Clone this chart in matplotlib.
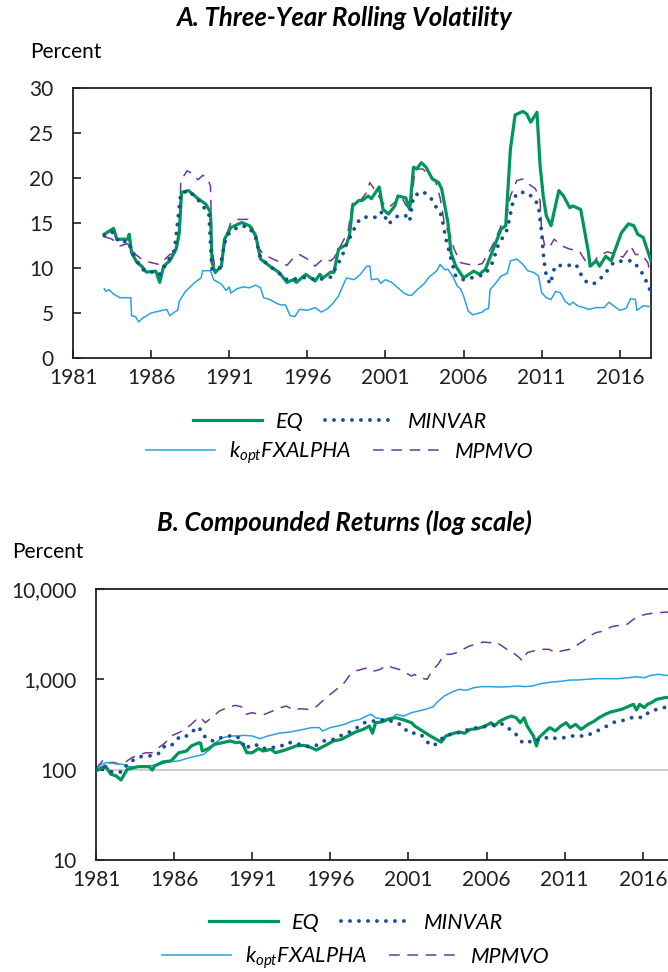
import matplotlib
matplotlib.use('Agg')
import matplotlib.pyplot as plt
import matplotlib.ticker as ticker

plt.rcParams['font.family'] = ['Lato', 'DejaVu Sans']
plt.rcParams['mathtext.fontset'] = 'custom'
plt.rcParams['mathtext.it'] = 'Lato:italic'
plt.rcParams['mathtext.rm'] = 'Lato'

# ---- panel A: three-year rolling volatility (percent) ----
eq_vol_x = [1983.0, 1983.6, 1983.8, 1984.5, 1984.6, 1984.75, 1985.1, 1985.4, 1985.7, 1986.3,
            1986.55, 1986.8, 1987.2, 1987.6, 1987.8, 1987.95, 1988.4, 1989.0, 1989.5, 1989.8,
            1989.9, 1990.1, 1990.5, 1990.7, 1991.1, 1991.8, 1992.3, 1992.7, 1993.0, 1993.6,
            1994.2, 1994.7, 1995.1, 1995.3, 1995.9, 1996.5, 1996.8, 1997.0, 1997.5, 1997.7,
            1998.0, 1998.5, 1998.7, 1998.9, 1999.3, 1999.5, 1999.9, 2000.1, 2000.6, 2000.85,
            2001.2, 2001.6, 2001.8, 2002.3, 2002.55, 2002.8, 2003.0, 2003.3, 2003.6, 2004.0,
            2004.4, 2004.6, 2005.0, 2005.2, 2005.5, 2006.0, 2006.65, 2007.0, 2007.4, 2007.9,
            2008.4, 2008.7, 2009.0, 2009.3, 2009.8, 2010.05, 2010.3, 2010.7, 2010.9, 2011.1,
            2011.3, 2011.6, 2012.1, 2012.4, 2012.8, 2013.0, 2013.5, 2014.0, 2014.1, 2014.5,
            2014.7, 2015.1, 2015.45, 2016.1, 2016.55, 2016.9, 2017.15, 2017.5, 2017.75, 2018.0]
eq_vol = [13.75, 14.4, 13.2, 13.2, 13.75, 11.7, 10.6, 10.2, 9.55, 9.65,
          8.4, 10.2, 10.8, 12.1, 13.9, 18.4, 18.6, 17.7, 17.1, 16.2,
          10.6, 9.5, 10.2, 13.2, 14.5, 15.05, 14.7, 13.6, 11.0, 10.2,
          9.5, 8.4, 8.7, 8.4, 9.3, 8.55, 9.3, 8.9, 9.55, 9.5,
          12.1, 12.6, 13.6, 16.9, 17.5, 17.5, 18.0, 17.7, 19.0, 16.5,
          16.0, 16.9, 18.0, 17.8, 16.5, 21.2, 21.0, 21.7, 21.2, 19.9,
          19.5, 18.8, 15.05, 11.7, 10.2, 8.9, 9.65, 9.3, 9.85, 12.1,
          14.3, 14.7, 23.2, 27.0, 27.4, 27.1, 26.2, 27.3, 21.4, 18.0,
          15.8, 14.7, 18.6, 18.0, 16.7, 16.9, 16.5, 11.7, 10.2, 10.8,
          10.2, 11.3, 10.8, 13.9, 14.9, 14.7, 13.75, 13.4, 12.1, 10.8]

minvar_vol_x = [1983.0, 1983.5, 1984.0, 1984.5, 1985.0, 1985.5, 1986.0, 1986.5, 1986.8, 1987.5,
                1987.9, 1988.4, 1989.0, 1989.7, 1989.9, 1990.4, 1990.8, 1991.2, 1991.8, 1992.3,
                1992.7, 1993.0, 1993.6, 1994.2, 1994.7, 1995.3, 1996.0, 1996.5, 1997.0, 1997.5,
                1998.2, 1998.5, 1999.2, 1999.5, 2000.0, 2000.5, 2000.8, 2001.2, 2001.8, 2002.3,
                2002.55, 2002.8, 2003.4, 2003.9, 2004.2, 2004.6, 2004.85, 2005.2, 2005.5, 2006.0,
                2006.5, 2007.4, 2007.85, 2008.2, 2008.8, 2009.2, 2009.5, 2010.0, 2010.5, 2010.8,
                2010.9, 2011.0, 2011.1, 2011.2, 2011.3, 2011.55, 2011.85, 2012.3, 2012.8, 2013.2,
                2013.6, 2013.95, 2014.4, 2014.8, 2015.2, 2015.6, 2016.2, 2016.8, 2017.3, 2017.6, 2018.0]
minvar_vol = [13.6, 14.0, 12.8, 13.0, 11.0, 9.8, 9.6, 9.2, 10.0, 12.0,
              18.3, 18.6, 17.6, 16.0, 9.8, 10.0, 13.5, 14.2, 14.7, 14.5,
              13.3, 11.1, 10.2, 9.4, 8.7, 8.8, 9.0, 8.7, 8.8, 9.0,
              11.2, 12.6, 15.05, 15.6, 15.7, 15.6, 16.3, 14.9, 15.8, 15.8,
              15.2, 18.0, 18.5, 17.8, 16.9, 15.8, 13.4, 11.0, 9.1, 8.7,
              8.9, 9.3, 10.6, 12.45, 14.3, 17.7, 18.4, 18.4, 17.8, 16.9,
              15.4, 13.9, 11.7, 10.2, 9.1, 8.2, 10.2, 10.3, 10.3, 10.4,
              9.0, 8.3, 8.3, 8.9, 9.7, 10.6, 10.8, 10.8, 9.85, 8.9, 7.3]

kopt_vol_x = [1983.0, 1983.1, 1983.3, 1983.6, 1984.0, 1984.5, 1984.7, 1984.75, 1985.0, 1985.2,
              1985.4, 1986.0, 1986.5, 1987.0, 1987.2, 1987.5, 1987.7, 1987.8, 1988.2, 1988.8,
              1989.2, 1989.3, 1989.8, 1990.0, 1990.5, 1990.8, 1991.0, 1991.1, 1991.5, 1991.9,
              1992.3, 1992.7, 1993.0, 1993.2, 1993.6, 1994.0, 1994.3, 1994.6, 1994.9, 1995.2,
              1995.5, 1996.0, 1996.5, 1996.9, 1997.3, 1997.6, 1998.0, 1998.5, 1999.0, 1999.4,
              1999.8, 2000.0, 2000.1, 2000.5, 2000.7, 2001.0, 2001.4, 2001.8, 2002.2, 2002.5,
              2002.7, 2003.1, 2003.5, 2003.8, 2004.3, 2004.5, 2004.8, 2005.0, 2005.3, 2005.6,
              2005.8, 2006.0, 2006.3, 2006.6, 2007.0, 2007.2, 2007.4, 2007.6, 2007.7, 2008.1,
              2008.4, 2008.8, 2009.0, 2009.4, 2009.8, 2010.1, 2010.5, 2010.8, 2011.0, 2011.3,
              2011.6, 2011.9, 2012.2, 2012.5, 2012.8, 2013.0, 2013.3, 2013.7, 2014.0, 2014.5,
              2015.0, 2015.3, 2015.6, 2016.0, 2016.4, 2016.7, 2017.0, 2017.1, 2017.5, 2018.0]
kopt_vol = [7.7, 7.4, 7.6, 7.1, 6.7, 6.7, 6.7, 4.7, 4.6, 4.0,
            4.35, 5.0, 5.2, 5.4, 4.7, 5.1, 5.3, 6.3, 7.4, 8.4,
            8.9, 9.7, 9.7, 8.7, 8.2, 7.5, 7.9, 7.2, 7.7, 7.9,
            7.8, 8.1, 7.8, 6.7, 6.5, 6.1, 5.9, 5.9, 4.7, 4.6,
            5.4, 5.3, 5.6, 5.1, 5.5, 6.0, 6.9, 8.9, 8.7, 9.3,
            10.2, 10.2, 8.7, 8.8, 8.3, 8.7, 8.4, 7.8, 7.2, 6.95,
            7.0, 7.7, 8.3, 9.0, 9.7, 10.4, 9.8, 9.85, 9.1, 8.0,
            7.7, 6.9, 5.2, 4.8, 5.0, 5.1, 5.4, 5.5, 7.6, 8.4,
            9.1, 9.4, 10.8, 11.0, 10.4, 9.7, 9.5, 9.1, 7.25, 6.7,
            6.5, 7.4, 7.25, 6.3, 5.9, 6.2, 5.8, 5.6, 5.4, 5.6,
            5.6, 6.2, 5.8, 5.3, 5.5, 6.6, 6.5, 5.3, 5.8, 5.7]

mpmvo_vol_x = [1983.0, 1983.5, 1984.0, 1984.5, 1984.8, 1985.0, 1985.5, 1986.0, 1986.5, 1986.9,
               1987.2, 1987.6, 1987.8, 1987.9, 1988.3, 1988.7, 1989.0, 1989.3, 1989.6, 1989.8,
               1989.9, 1990.1, 1990.5, 1990.8, 1991.1, 1991.6, 1992.2, 1992.5, 1992.8, 1993.2,
               1993.8, 1994.3, 1994.7, 1995.2, 1995.5, 1996.0, 1996.5, 1997.0, 1997.5, 1997.7,
               1998.2, 1998.6, 1998.9, 1999.4, 1999.8, 2000.0, 2000.4, 2000.8, 2001.2, 2001.6,
               2002.0, 2002.3, 2002.6, 2002.9, 2003.4, 2003.8, 2004.2, 2004.5, 2004.8, 2005.1,
               2005.4, 2005.8, 2006.3, 2006.8, 2007.2, 2007.6, 2008.0, 2008.4, 2008.7, 2009.0,
               2009.4, 2009.8, 2010.2, 2010.6, 2010.9, 2011.0, 2011.2, 2011.5, 2011.8, 2012.3,
               2012.8, 2013.4, 2013.8, 2014.2, 2014.6, 2015.2, 2015.8, 2016.2, 2016.7, 2017.0,
               2017.4, 2017.8, 2018.0]
mpmvo_vol = [13.5, 13.2, 12.45, 12.7, 12.0, 11.5, 10.85, 10.6, 10.4, 11.0,
             11.5, 11.7, 13.5, 19.7, 20.8, 20.45, 19.8, 20.3, 20.0, 19.1,
             12.1, 9.85, 10.3, 13.5, 15.05, 15.4, 15.4, 14.4, 12.45, 11.5,
             11.0, 10.6, 10.3, 11.3, 11.5, 11.0, 10.2, 11.0, 10.8, 11.1,
             12.7, 14.0, 17.3, 17.5, 18.4, 19.5, 18.5, 17.3, 16.7, 17.3,
             18.0, 17.0, 16.5, 21.0, 21.0, 20.3, 19.7, 17.8, 14.7, 13.9,
             12.1, 10.6, 10.4, 10.3, 10.5, 11.7, 13.0, 14.7, 15.3, 18.0,
             19.7, 19.9, 19.3, 18.8, 17.5, 14.0, 12.45, 12.3, 13.2, 12.45,
             12.1, 11.9, 10.8, 10.2, 11.3, 11.8, 11.5, 11.2, 12.45, 11.5,
             11.5, 10.6, 9.0]

# ---- panel B: compounded returns (percent, log scale) ----
eq_cum_x = [1981.0, 1981.6, 1981.95, 1982.3, 1982.6, 1983.0, 1983.7, 1984.4, 1984.6, 1984.75,
            1985.3, 1985.8, 1986.3, 1986.8, 1987.1, 1987.6, 1987.7, 1987.8, 1988.2, 1988.6,
            1989.1, 1989.6, 1989.95, 1990.2, 1990.4, 1990.65, 1991.0, 1991.4, 1991.7, 1992.2,
            1992.5, 1993.1, 1993.8, 1994.3, 1994.8, 1995.1, 1995.7, 1996.2, 1996.7, 1997.2,
            1997.6, 1998.1, 1998.5, 1998.7, 1998.9, 1999.3, 1999.8, 2000.2, 2000.7, 2001.2,
            2001.4, 2001.9, 2002.4, 2002.8, 2003.1, 2003.4, 2003.9, 2004.25, 2004.6, 2004.95,
            2005.4, 2005.9, 2006.3, 2006.5, 2006.85, 2007.3, 2007.6, 2007.9, 2008.15, 2008.4,
            2008.6, 2009.0, 2009.2, 2009.35, 2009.8, 2010.05, 2010.4, 2010.75, 2011.1, 2011.35,
            2011.7, 2012.05, 2012.5, 2012.9, 2013.2, 2013.6, 2013.95, 2014.65, 2015.4, 2015.6,
            2015.8, 2016.1, 2016.3, 2016.55, 2016.9, 2017.4, 2018.0]
eq_cum = [97, 110, 89, 85, 77, 101, 108, 108, 99, 110,
          122, 125, 154, 161, 183, 199, 196, 161, 171, 191,
          199, 208, 199, 202, 191, 154, 154, 171, 161, 168,
          154, 165, 183, 186, 175, 165, 186, 208, 216, 240,
          261, 279, 304, 253, 331, 337, 367, 376, 355, 331,
          304, 268, 236, 216, 202, 236, 253, 261, 253, 279,
          284, 304, 331, 304, 345, 376, 392, 376, 331, 376,
          304, 236, 183, 226, 268, 292, 268, 304, 331, 292,
          317, 279, 317, 345, 376, 410, 435, 466, 529, 458,
          529, 486, 529, 552, 601, 626, 640]

minvar_cum_x = [1981.0, 1981.5, 1981.8, 1982.3, 1982.7, 1983.0, 1983.4, 1983.8, 1984.3, 1984.7,
                1985.1, 1985.4, 1985.8, 1986.1, 1986.4, 1986.8, 1987.2, 1987.6, 1987.8, 1988.2,
                1988.5, 1989.0, 1989.5, 1990.0, 1990.3, 1990.6, 1990.8, 1991.2, 1991.6, 1992.2,
                1992.8, 1993.2, 1993.7, 1994.2, 1994.7, 1995.1, 1995.6, 1996.1, 1996.6, 1997.1,
                1997.5, 1997.9, 1998.2, 1998.6, 1999.1, 1999.5, 1999.9, 2000.3, 2000.7, 2001.0,
                2001.4, 2001.8, 2002.2, 2002.6, 2003.0, 2003.3, 2003.7, 2004.1, 2004.5, 2004.9,
                2005.4, 2005.8, 2006.3, 2006.7, 2007.1, 2007.5, 2007.8, 2008.3, 2008.6, 2009.0,
                2009.3, 2009.8, 2010.1, 2010.5, 2011.0, 2011.5, 2012.0, 2012.4, 2012.8, 2013.3,
                2013.7, 2014.2, 2014.6, 2015.1, 2015.5, 2016.0, 2016.4, 2016.9, 2017.3, 2018.0]
minvar_cum = [100, 108, 96, 93, 95, 115, 128, 139, 142, 143,
              154, 183, 183, 208, 236, 236, 268, 297, 246, 216,
              208, 226, 236, 236, 208, 168, 183, 191, 171, 175,
              180, 199, 199, 186, 180, 186, 208, 213, 236, 253,
              279, 304, 331, 345, 345, 360, 345, 331, 292, 257,
              253, 246, 202, 183, 208, 236, 246, 253, 268, 279,
              292, 299, 304, 326, 318, 279, 257, 199, 208, 199,
              216, 226, 216, 226, 226, 236, 236, 236, 257, 279,
              304, 337, 345, 367, 386, 376, 435, 466, 486, 500]

kopt_cum_x = [1981.0, 1981.35, 1981.7, 1982.0, 1982.4, 1982.7, 1983.1, 1983.7, 1984.4, 1985.1,
              1985.6, 1986.3, 1987.0, 1987.5, 1987.9, 1988.3, 1988.6, 1989.1, 1989.6, 1990.1,
              1990.5, 1991.0, 1991.5, 1992.0, 1992.7, 1993.4, 1994.1, 1994.8, 1995.3, 1995.5,
              1996.0, 1996.45, 1996.9, 1997.4, 1997.9, 1998.3, 1998.6, 1998.9, 1999.5, 2000.0,
              2000.2, 2000.7, 2001.2, 2001.65, 2002.1, 2002.6, 2002.8, 2003.3, 2003.8, 2004.25,
              2004.7, 2005.2, 2005.7, 2006.1, 2006.85, 2007.5, 2008.0, 2008.45, 2008.95, 2009.45,
              2010.2, 2010.9, 2011.35, 2011.8, 2012.4, 2013.0, 2013.7, 2014.4, 2015.1, 2015.6,
              2016.1, 2016.5, 2017.0, 2017.5, 2018.0]
kopt_cum = [100, 115, 120, 118, 115, 115, 108, 108, 110, 115,
            122, 125, 136, 142, 148, 168, 196, 226, 236, 236,
            240, 236, 220, 236, 253, 261, 275, 292, 292, 268,
            292, 304, 317, 345, 360, 392, 410, 376, 360, 376,
            410, 392, 428, 446, 466, 498, 552, 655, 725, 775,
            756, 809, 830, 830, 822, 830, 845, 830, 845, 894,
            935, 956, 983, 983, 1000, 1017, 1017, 1017, 1043, 1068,
            1043, 1104, 1136, 1104, 1100]

mpmvo_cum_x = [1981.0, 1981.5, 1981.8, 1982.2, 1982.6, 1982.9, 1983.3, 1983.7, 1984.2, 1984.6,
               1985.0, 1985.4, 1985.8, 1986.3, 1986.7, 1987.1, 1987.6, 1987.8, 1988.0, 1988.4,
               1988.9, 1989.4, 1989.9, 1990.3, 1990.6, 1991.0, 1991.4, 1991.8, 1992.3, 1992.8,
               1993.2, 1993.6, 1994.1, 1994.6, 1995.1, 1995.5, 1996.0, 1996.4, 1996.9, 1997.2,
               1997.6, 1998.0, 1998.4, 1998.8, 1999.2, 1999.6, 2000.0, 2000.4, 2000.8, 2001.2,
               2001.4, 2001.7, 2002.2, 2002.5, 2002.9, 2003.3, 2003.7, 2004.1, 2004.5, 2004.9,
               2005.3, 2005.8, 2006.2, 2006.6, 2007.0, 2007.3, 2007.7, 2008.1, 2008.3, 2008.6,
               2009.0, 2009.5, 2010.0, 2010.4, 2010.8, 2011.3, 2011.7, 2012.2, 2012.6, 2013.0,
               2013.5, 2014.0, 2014.5, 2015.0, 2015.4, 2015.8, 2016.2, 2016.6, 2017.2, 2018.0]
mpmvo_cum = [103, 130, 120, 120, 112, 122, 136, 145, 154, 154,
             175, 196, 236, 257, 280, 318, 383, 361, 331, 376,
             446, 486, 515, 498, 410, 428, 410, 410, 446, 486,
             506, 458, 473, 465, 498, 576, 682, 775, 919, 1089,
             1236, 1290, 1346, 1236, 1290, 1429, 1346, 1290, 1185, 1089,
             1136, 1043, 1000, 1236, 1466, 1891, 1891, 1974, 2149, 2339,
             2440, 2590, 2546, 2590, 2339, 2149, 1974, 1738, 1596, 1974,
             2060, 2149, 2149, 1974, 2060, 2149, 2339, 2657, 3017, 3287,
             3429, 3830, 3963, 4064, 4617, 5025, 5245, 5377, 5500, 5600]

years_ticks = [1981, 1986, 1991, 1996, 2001, 2006, 2011, 2016]

EQ_C = '#00955A'
MV_C = '#1B4F93'
KO_C = '#29A3DD'
MP_C = '#6B3A96'

W, H = 668, 972
fig = plt.figure(figsize=(W / 100, H / 100), dpi=100)


def frac(x0, y0, x1, y1):
    return [x0 / W, 1 - y1 / H, (x1 - x0) / W, (y1 - y0) / H]


def style_axis(ax):
    for sp in ax.spines.values():
        sp.set_linewidth(1.3)
        sp.set_color('#231F20')
    ax.tick_params(direction='in', length=6, width=1.2, labelsize=15, colors='#231F20')
    ax.tick_params(axis='y', pad=14)
    ax.tick_params(axis='x', pad=7)
    ax.set_xticks(years_ticks)
    ax.set_xlim(1981, 2018.0)


def draw_lines(ax, x1, y1, x2, y2, x3, y3, x4, y4):
    h_eq, = ax.plot(x1, y1, color=EQ_C, lw=2.3, zorder=4)
    h_mv, = ax.plot(x2, y2, color=MV_C, lw=2.8, linestyle=(0, (0.01, 2.3)),
                    dash_capstyle='round', zorder=5)
    h_ko, = ax.plot(x3, y3, color=KO_C, lw=1.1, zorder=3)
    h_mp, = ax.plot(x4, y4, color=MP_C, lw=1.1, dashes=(7, 5), zorder=2)
    return h_eq, h_mv, h_ko, h_mp


def add_legends(handles, cx, y1, y2):
    h_eq, h_mv, h_ko, h_mp = handles
    kw = dict(ncol=2, loc='center', frameon=False, handlelength=3.2, handletextpad=0.65,
              columnspacing=1.0, prop=dict(family='Lato', style='italic', size=15.5))
    fig.legend([h_eq, h_mv], ['EQ', 'MINVAR'], bbox_to_anchor=(cx / W, 1 - y1 / H), **kw)
    fig.legend([h_ko, h_mp], [r'$k_{opt}$FXALPHA', 'MPMVO'],
               bbox_to_anchor=(cx / W, 1 - y2 / H), **kw)


# panel A
ax1 = fig.add_axes(frac(73, 88, 651, 358))
hA = draw_lines(ax1, eq_vol_x, eq_vol, minvar_vol_x, minvar_vol,
                kopt_vol_x, kopt_vol, mpmvo_vol_x, mpmvo_vol)
style_axis(ax1)
ax1.set_ylim(0, 30)
ax1.set_yticks([0, 5, 10, 15, 20, 25, 30])
fig.text(344 / W, 1 - 18 / H, 'A. Three-Year Rolling Volatility', ha='center', va='center',
         fontsize=18.5, fontweight='bold', style='italic')
fig.text(30 / W, 1 - 52 / H, 'Percent', ha='left', va='center', fontsize=15)
add_legends(hA, 340, 422, 453)

# panel B
ax2 = fig.add_axes(frac(96, 589, 674, 860))
ax2.axhline(100, color='#C8C8C8', lw=1.3, zorder=1)
hB = draw_lines(ax2, eq_cum_x, eq_cum, minvar_cum_x, minvar_cum,
                kopt_cum_x, kopt_cum, mpmvo_cum_x, mpmvo_cum)
ax2.set_yscale('log')
style_axis(ax2)
ax2.set_ylim(10, 10000)
ax2.set_yticks([10, 100, 1000, 10000])
ax2.yaxis.set_minor_locator(ticker.NullLocator())
ax2.yaxis.set_major_formatter(ticker.FuncFormatter(lambda v, p: f'{int(round(v)):,}'))
fig.text(344 / W, 1 - 522 / H, 'B. Compounded Returns (log scale)', ha='center', va='center',
         fontsize=18.5, fontweight='bold', style='italic')
fig.text(12 / W, 1 - 552 / H, 'Percent', ha='left', va='center', fontsize=15)
add_legends(hB, 356, 923, 958)

fig.savefig('out.png', dpi=100)
